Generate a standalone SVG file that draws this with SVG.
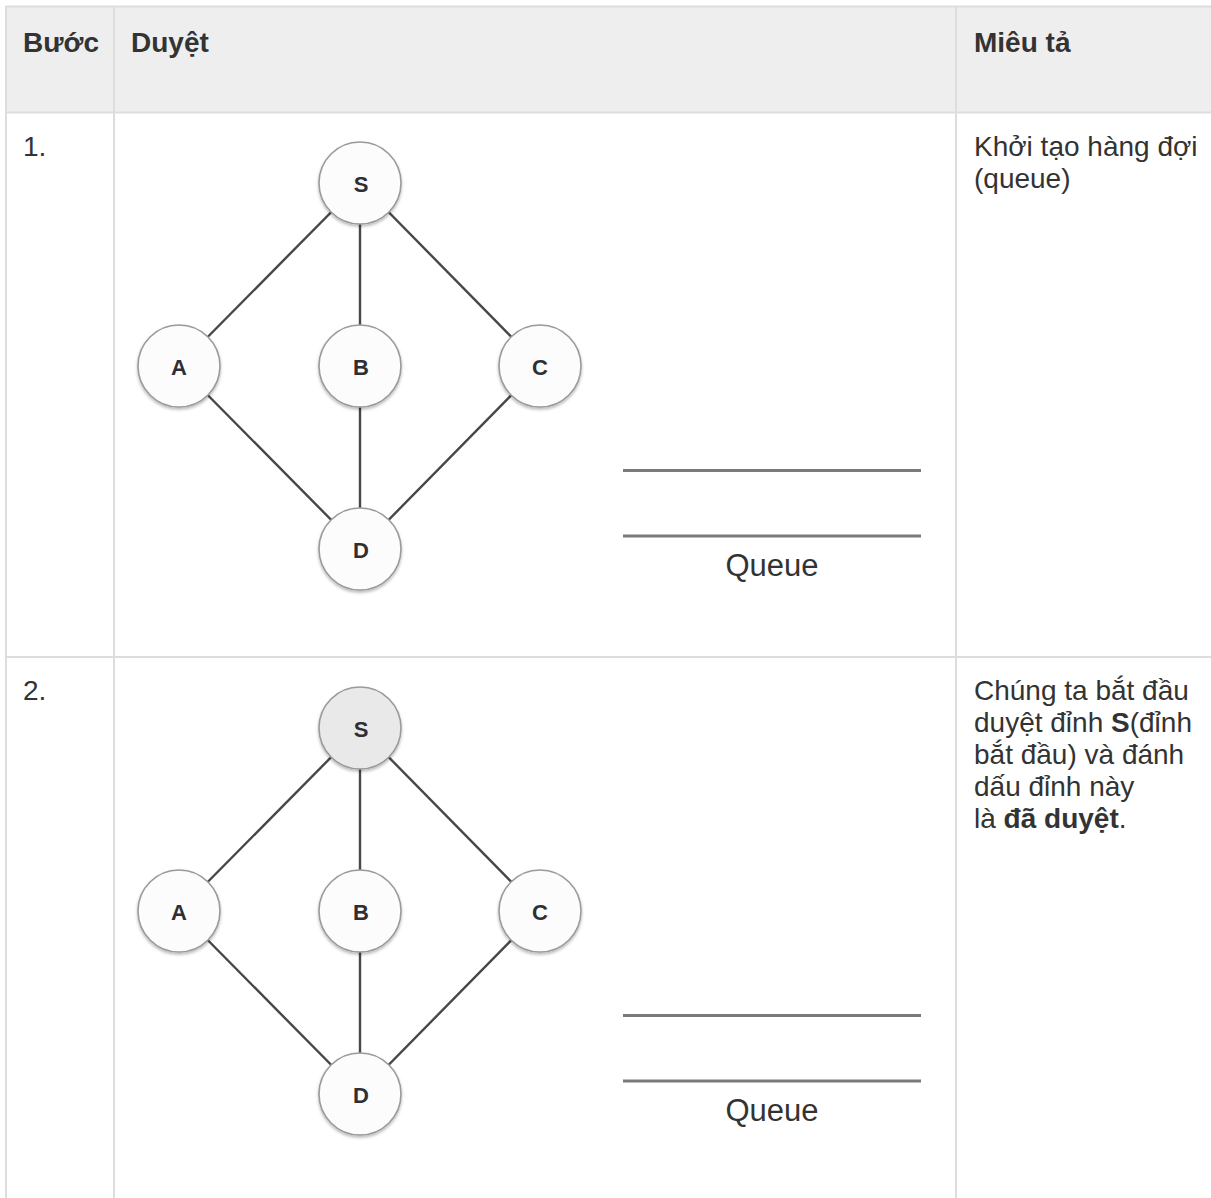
<svg xmlns="http://www.w3.org/2000/svg" width="1211" height="1198" viewBox="0 0 1211 1198">
  <defs>
    <filter id="nodeShadow" x="-30%" y="-30%" width="160%" height="170%">
      <feDropShadow dx="0" dy="2" stdDeviation="1.6" flood-color="#000" flood-opacity="0.28"/>
    </filter>
    <style>
      .grid { stroke: #dddddd; stroke-width: 2; fill: none; }
      .head { font-family: "Liberation Sans", Arial, sans-serif; font-size: 28px; font-weight: bold; fill: #333333; }
      .body { font-family: "Liberation Sans", Arial, sans-serif; font-size: 28px; fill: #333333; }
      .body tspan.b { font-weight: bold; }
      .edge { stroke: #474747; stroke-width: 2.4; }
      .node circle { fill: #fcfcfc; stroke: #9a9a9a; stroke-width: 1.6; filter: url(#nodeShadow); }
      .node.visited circle { fill: #e9e9e9; }
      .node text { font-family: "Liberation Sans", Arial, sans-serif; font-size: 22px; font-weight: bold; fill: #2f2f33; text-anchor: middle; }
      .qline { stroke: #7a7a7a; stroke-width: 3; }
      .qlabel { font-family: "Liberation Sans", Arial, sans-serif; font-size: 31px; fill: #333333; text-anchor: middle; }
    </style>
  </defs>

  <rect width="1211" height="1198" fill="#ffffff"/>

  <!-- table frame -->
  <g id="table">
    <rect x="6" y="7" width="1205" height="105" fill="#eeeeee"/>
    <line class="grid" x1="6" y1="6.5" x2="1211" y2="6.5"/>
    <line class="grid" x1="6" y1="112.5" x2="1211" y2="112.5"/>
    <line class="grid" x1="6" y1="657" x2="1211" y2="657"/>
    <line class="grid" x1="6" y1="6" x2="6" y2="1198"/>
    <line class="grid" x1="114" y1="6" x2="114" y2="1198"/>
    <line class="grid" x1="956" y1="6" x2="956" y2="1198"/>
  </g>

  <!-- header -->
  <g id="header">
    <text class="head" x="23" y="52">Bước</text>
    <text class="head" x="131" y="52">Duyệt</text>
    <text class="head" x="974" y="52">Miêu tả</text>
  </g>

  <!-- step 1 -->
  <g id="step1">
    <text class="body" x="23" y="156">1.</text>
    <g id="step1-edges">
      <line class="edge" x1="360" y1="183" x2="179" y2="366"/>
      <line class="edge" x1="360" y1="183" x2="360" y2="366"/>
      <line class="edge" x1="360" y1="183" x2="540" y2="366"/>
      <line class="edge" x1="179" y1="366" x2="360" y2="549"/>
      <line class="edge" x1="360" y1="366" x2="360" y2="549"/>
      <line class="edge" x1="540" y1="366" x2="360" y2="549"/>
    </g>
    <g id="step1-S" class="node"><circle cx="360" cy="183" r="41"/><text x="361" y="192">S</text></g>
    <g id="step1-A" class="node"><circle cx="179" cy="366" r="41"/><text x="179" y="375">A</text></g>
    <g id="step1-B" class="node"><circle cx="360" cy="366" r="41"/><text x="361" y="375">B</text></g>
    <g id="step1-C" class="node"><circle cx="540" cy="366" r="41"/><text x="540" y="375">C</text></g>
    <g id="step1-D" class="node"><circle cx="360" cy="549" r="41"/><text x="361" y="558">D</text></g>
    <g id="step1-queue">
      <line class="qline" x1="623" y1="470.5" x2="921" y2="470.5"/>
      <line class="qline" x1="623" y1="536" x2="921" y2="536"/>
      <text class="qlabel" x="772" y="576">Queue</text>
    </g>
    <text class="body" x="974" y="156">Khởi tạo hàng đợi</text>
    <text class="body" x="974" y="188">(queue)</text>
  </g>

  <!-- step 2 -->
  <g id="step2">
    <text class="body" x="23" y="700">2.</text>
    <g id="step2-edges">
      <line class="edge" x1="360" y1="728" x2="179" y2="911"/>
      <line class="edge" x1="360" y1="728" x2="360" y2="911"/>
      <line class="edge" x1="360" y1="728" x2="540" y2="911"/>
      <line class="edge" x1="179" y1="911" x2="360" y2="1094"/>
      <line class="edge" x1="360" y1="911" x2="360" y2="1094"/>
      <line class="edge" x1="540" y1="911" x2="360" y2="1094"/>
    </g>
    <g id="step2-S" class="node visited"><circle cx="360" cy="728" r="41"/><text x="361" y="737">S</text></g>
    <g id="step2-A" class="node"><circle cx="179" cy="911" r="41"/><text x="179" y="920">A</text></g>
    <g id="step2-B" class="node"><circle cx="360" cy="911" r="41"/><text x="361" y="920">B</text></g>
    <g id="step2-C" class="node"><circle cx="540" cy="911" r="41"/><text x="540" y="920">C</text></g>
    <g id="step2-D" class="node"><circle cx="360" cy="1094" r="41"/><text x="361" y="1103">D</text></g>
    <g id="step2-queue">
      <line class="qline" x1="623" y1="1015.5" x2="921" y2="1015.5"/>
      <line class="qline" x1="623" y1="1081" x2="921" y2="1081"/>
      <text class="qlabel" x="772" y="1121">Queue</text>
    </g>
    <text class="body" x="974" y="700">Chúng ta bắt đầu</text>
    <text class="body" x="974" y="732">duyệt đỉnh <tspan class="b">S</tspan>(đỉnh</text>
    <text class="body" x="974" y="764">bắt đầu) và đánh</text>
    <text class="body" x="974" y="796">dấu đỉnh này</text>
    <text class="body" x="974" y="828">là <tspan class="b">đã duyệt</tspan>.</text>
  </g>
</svg>
